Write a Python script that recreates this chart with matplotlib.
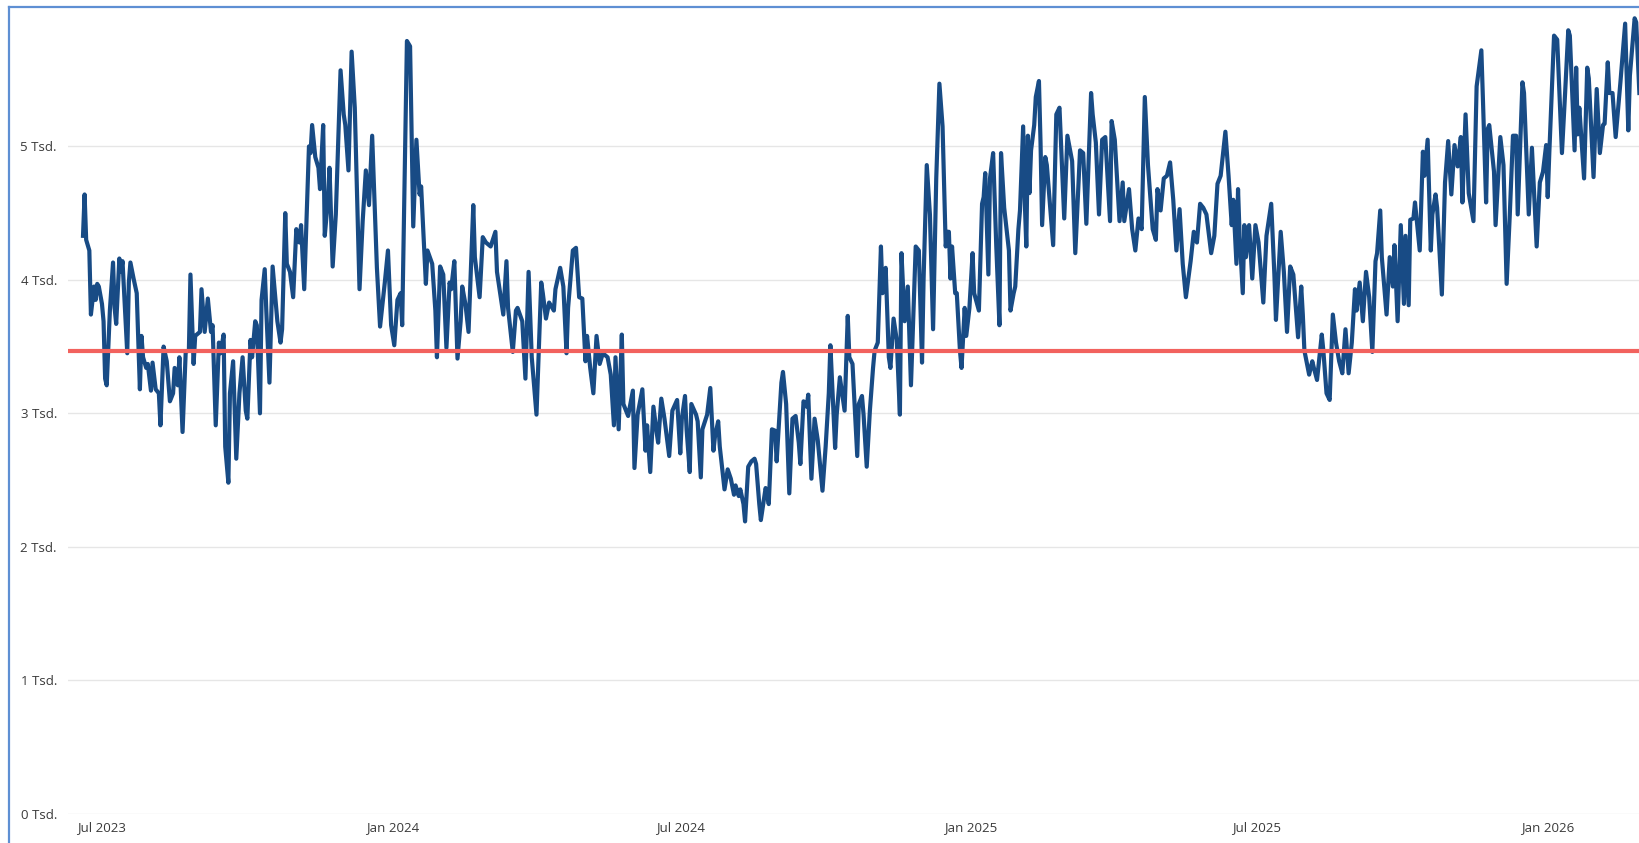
import matplotlib
matplotlib.use("Agg")
import matplotlib.pyplot as plt
import pandas as pd
from matplotlib.lines import Line2D

# ---------------- data ----------------
start_date = "2023-07-01"

day_offsets = [
    -12, -11, -10, -8, -7, -5, -4, -3, -2, 0, 1, 2, 3, 5, 7, 8, 9, 11, 12, 13,
    16, 17, 18, 20, 22, 24, 25, 26, 28, 29, 31, 32, 34, 36, 37, 39, 41, 43, 45, 46,
    48, 49, 51, 53, 55, 56, 58, 59, 62, 63, 65, 67, 69, 70, 72, 74, 75, 77, 78, 80,
    81, 83, 85, 87, 89, 91, 92, 94, 95, 97, 98, 100, 101, 103, 104, 106, 108, 111, 113, 114,
    116, 117, 119, 121, 123, 125, 126, 128, 131, 132, 133, 135, 137, 138, 140, 141, 143, 144, 146, 148,
    151, 153, 154, 156, 158, 160, 163, 165, 167, 169, 171, 174, 176, 179, 181, 183, 185, 187, 189, 190,
    193, 195, 197, 199, 201, 202, 205, 206, 209, 211, 212, 214, 216, 218, 220, 221, 223, 225, 227, 228,
    230, 232, 235, 236, 239, 241, 243, 246, 249, 250, 254, 256, 257, 260, 262, 263, 266, 268, 270, 272,
    275, 278, 279, 281, 283, 286, 287, 290, 292, 294, 295, 298, 300, 302, 304, 306, 307, 309, 311, 313,
    315, 317, 320, 322, 324, 325, 327, 329, 330, 333, 336, 337, 339, 342, 344, 345, 347, 349, 351, 352,
    354, 356, 359, 361, 364, 366, 367, 369, 370, 372, 373, 376, 377, 379, 380, 383, 385, 387, 388, 390,
    391, 394, 396, 398, 400, 401, 403, 404, 406, 407, 409, 411, 413, 414, 416, 417, 420, 421, 422, 424,
    426, 427, 430, 431, 433, 435, 437, 439, 441, 442, 444, 446, 447, 449, 451, 453, 456, 458, 460, 461,
    464, 465, 467, 469, 470, 472, 473, 475, 478, 479, 481, 482, 484, 486, 488, 489, 491, 493, 494, 496,
    498, 499, 501, 503, 505, 506, 508, 510, 512, 515, 517, 519, 520, 522, 524, 526, 528, 530, 532, 534,
    535, 536, 537, 538, 540, 541, 543, 544, 546, 547, 549, 551, 552, 555, 557, 558, 559, 561, 562, 564,
    566, 568, 569, 571, 574, 575, 577, 578, 580, 581, 583, 584, 585, 586, 587, 588, 590, 591, 593, 594,
    595, 597, 598, 602, 604, 606, 609, 611, 614, 616, 619, 621, 623, 626, 627, 629, 631, 633, 635, 638,
    639, 641, 643, 644, 646, 647, 650, 652, 654, 656, 658, 660, 662, 665, 667, 668, 670, 672, 674, 676,
    678, 680, 682, 684, 686, 689, 691, 693, 695, 697, 699, 702, 704, 706, 708, 711, 713, 715, 716, 718,
    719, 720, 722, 723, 724, 726, 728, 730, 732, 735, 737, 740, 742, 743, 746, 748, 750, 752, 754, 757,
    759, 760, 761, 764, 766, 767, 769, 772, 773, 775, 777, 779, 781, 783, 785, 787, 789, 791, 793, 794,
    796, 798, 800, 802, 804, 806, 807, 809, 810, 813, 815, 817, 818, 820, 822, 824, 825, 827, 828, 830,
    831, 834, 836, 837, 839, 841, 842, 844, 845, 848, 850, 852, 854, 856, 858, 860, 861, 863, 865, 868,
    870, 873, 874, 876, 877, 878, 881, 882, 885, 887, 889, 891, 893, 895, 896, 899, 900, 903, 905, 908,
    910, 912, 914, 915, 916, 919, 921, 924, 926, 928, 929, 932, 933, 934, 935, 938, 940, 941, 944, 946,
    948, 950, 951, 953, 954, 956, 958, 961, 964, 966, 967, 970, 971, 973,
]

values = [
    4.33, 4.64, 4.30, 4.22, 3.74, 3.95, 3.85, 3.97, 3.95, 3.82, 3.69, 3.26, 3.21, 3.77, 4.13, 3.79, 3.67, 4.16, 4.06, 4.14,
    3.45, 3.98, 4.13, 4.01, 3.90, 3.18, 3.58, 3.42, 3.34, 3.37, 3.17, 3.38, 3.18, 3.15, 2.91, 3.50, 3.39, 3.09, 3.15, 3.34,
    3.21, 3.42, 2.86, 3.46, 3.47, 4.04, 3.37, 3.58, 3.61, 3.93, 3.61, 3.86, 3.61, 3.66, 2.91, 3.53, 3.45, 3.59, 2.75, 2.48,
    3.15, 3.39, 2.66, 3.15, 3.42, 3.02, 2.96, 3.55, 3.42, 3.69, 3.66, 3.00, 3.85, 4.08, 3.77, 3.23, 4.10, 3.69, 3.53, 3.63,
    4.50, 4.12, 4.06, 3.87, 4.38, 4.28, 4.41, 3.93, 5.00, 4.95, 5.16, 4.92, 4.84, 4.68, 5.16, 4.33, 4.60, 4.84, 4.10, 4.49,
    5.57, 5.24, 5.16, 4.82, 5.71, 5.29, 3.93, 4.44, 4.82, 4.56, 5.08, 4.09, 3.65, 3.98, 4.22, 3.66, 3.51, 3.85, 3.90, 3.66,
    5.79, 5.75, 4.40, 5.05, 4.64, 4.70, 3.97, 4.22, 4.12, 3.77, 3.42, 4.10, 4.04, 3.49, 3.98, 3.93, 4.14, 3.41, 3.69, 3.95,
    3.82, 3.61, 4.56, 4.17, 3.87, 4.32, 4.28, 4.25, 4.36, 4.06, 3.74, 4.14, 3.79, 3.46, 3.77, 3.79, 3.69, 3.26, 4.06, 3.42,
    2.99, 3.98, 3.90, 3.71, 3.83, 3.77, 3.93, 4.09, 3.95, 3.45, 3.79, 4.22, 4.24, 3.87, 3.86, 3.39, 3.58, 3.34, 3.15, 3.58,
    3.37, 3.45, 3.42, 3.29, 2.91, 3.42, 2.88, 3.59, 3.07, 2.98, 3.17, 2.59, 2.99, 3.18, 2.72, 2.91, 2.56, 3.05, 2.86, 2.78,
    3.11, 2.96, 2.68, 3.02, 3.10, 2.70, 2.96, 3.13, 2.88, 2.56, 3.07, 2.99, 2.94, 2.52, 2.88, 2.99, 3.19, 2.72, 2.83, 2.94,
    2.75, 2.43, 2.58, 2.51, 2.39, 2.46, 2.38, 2.43, 2.32, 2.19, 2.60, 2.64, 2.66, 2.62, 2.32, 2.20, 2.44, 2.40, 2.32, 2.88,
    2.87, 2.64, 3.23, 3.31, 3.07, 2.40, 2.96, 2.98, 2.78, 2.62, 3.09, 3.05, 3.14, 2.51, 2.96, 2.80, 2.42, 2.75, 3.15, 3.51,
    2.74, 2.99, 3.27, 3.10, 3.02, 3.73, 3.42, 3.37, 2.68, 3.07, 3.13, 2.99, 2.60, 3.02, 3.34, 3.47, 3.53, 4.25, 3.90, 4.09,
    3.42, 3.34, 3.71, 3.55, 2.99, 4.20, 3.69, 3.95, 3.21, 4.25, 4.22, 3.38, 4.01, 4.86, 4.49, 3.63, 4.76, 5.47, 5.15, 4.25,
    4.36, 4.36, 4.01, 4.25, 3.90, 3.90, 3.47, 3.34, 3.79, 3.58, 3.79, 4.20, 3.90, 3.77, 4.57, 4.62, 4.80, 4.04, 4.76, 4.95,
    4.25, 3.66, 4.95, 4.54, 4.22, 3.77, 3.90, 3.95, 4.38, 4.52, 5.15, 4.60, 4.25, 5.08, 4.65, 4.97, 5.16, 5.37, 5.49, 5.03,
    4.41, 4.92, 4.86, 4.26, 5.24, 5.29, 4.46, 5.08, 4.89, 4.20, 4.97, 4.95, 4.42, 5.40, 5.24, 5.03, 4.49, 5.05, 5.07, 4.44,
    5.19, 5.05, 4.65, 4.44, 4.73, 4.44, 4.68, 4.38, 4.22, 4.46, 4.38, 5.37, 4.86, 4.38, 4.30, 4.68, 4.52, 4.76, 4.78, 4.88,
    4.60, 4.22, 4.53, 4.12, 3.87, 4.14, 4.36, 4.28, 4.57, 4.54, 4.49, 4.20, 4.33, 4.72, 4.78, 5.11, 4.78, 4.41, 4.60, 4.12,
    4.68, 4.33, 3.90, 4.41, 4.17, 4.41, 4.01, 4.41, 4.28, 3.83, 4.33, 4.57, 4.04, 3.70, 4.36, 4.06, 3.61, 4.10, 4.04, 3.57,
    3.95, 3.74, 3.47, 3.29, 3.39, 3.34, 3.25, 3.59, 3.47, 3.15, 3.10, 3.74, 3.53, 3.39, 3.30, 3.63, 3.30, 3.53, 3.93, 3.77,
    3.98, 3.69, 4.06, 3.87, 3.46, 4.14, 4.20, 4.52, 4.17, 3.74, 4.17, 3.95, 4.26, 3.69, 4.41, 3.82, 4.33, 3.81, 4.45, 4.46,
    4.58, 4.22, 4.96, 4.78, 5.05, 4.22, 4.49, 4.64, 4.54, 3.89, 4.73, 5.04, 4.64, 5.01, 4.85, 5.07, 4.58, 5.24, 4.65, 4.44,
    5.45, 5.72, 5.35, 4.58, 5.13, 5.16, 4.81, 4.41, 5.07, 4.86, 3.97, 4.49, 5.08, 5.08, 4.49, 5.48, 5.40, 4.49, 4.99, 4.25,
    4.73, 4.81, 5.01, 4.62, 4.95, 5.83, 5.80, 4.95, 5.40, 5.87, 5.83, 4.97, 5.59, 5.09, 5.29, 4.76, 5.59, 5.51, 4.77, 5.43,
    4.95, 5.16, 5.17, 5.63, 5.40, 5.40, 5.07, 5.48, 5.92, 5.12, 5.53, 5.96, 5.93, 5.40,
]

reference_value = 3.47

y_ticks = [0, 1, 2, 3, 4, 5]
y_tick_labels = ["0 Tsd.", "1 Tsd.", "2 Tsd.", "3 Tsd.", "4 Tsd.", "5 Tsd."]
x_tick_dates = ["2023-07-01", "2024-01-01", "2024-07-01", "2025-01-01", "2025-07-01", "2026-01-01"]
x_tick_labels = ["Jul 2023", "Jan 2024", "Jul 2024", "Jan 2025", "Jul 2025", "Jan 2026"]

# ---------------- figure ----------------
W, H = 1640, 843
start = pd.Timestamp(start_date)
dates = start + pd.to_timedelta(day_offsets, unit="D")

plt.rcParams["font.family"] = ["Open Sans", "DejaVu Sans"]

fig = plt.figure(figsize=(W / 100, H / 100), dpi=100)
left_px, right_px, top_px, bottom_px = 68, 1640, 8, 813.7
ax = fig.add_axes([left_px / W, 1 - bottom_px / H, (right_px - left_px) / W, (bottom_px - top_px) / H])

ax.plot(dates, values, color="#184B85", lw=3.0, solid_joinstyle="round", zorder=3)
ax.axhline(reference_value, color="#F2625E", lw=3.0, zorder=4)

ax.set_ylim(0, (bottom_px - top_px) / 133.46)
ax.set_xlim(start + pd.Timedelta(days=-21.5), start + pd.Timedelta(days=973.4))

ax.set_yticks(y_ticks)
ax.set_yticklabels(y_tick_labels)
ax.set_xticks(pd.to_datetime(x_tick_dates))
ax.set_xticklabels(x_tick_labels)

ax.grid(axis="y", color="#E6E6E6", lw=1.0, zorder=0)
ax.grid(axis="x", visible=False)
for s in ax.spines.values():
    s.set_visible(False)
ax.tick_params(axis="y", length=0, pad=8, labelsize=9.5, labelcolor="#3A3A3A")
ax.tick_params(axis="x", length=0, pad=5, labelsize=9.5, labelcolor="#3A3A3A")

# outer frame (left and top edges visible)
frame_col = "#5E8FD3"
fig.add_artist(Line2D([8.5 / W, 8.5 / W], [0, 1 - 6.5 / H], transform=fig.transFigure,
                      color=frame_col, lw=1.6))
fig.add_artist(Line2D([8.5 / W, 1], [1 - 6.5 / H, 1 - 6.5 / H], transform=fig.transFigure,
                      color=frame_col, lw=1.6))

fig.savefig("out.png", dpi=100)
